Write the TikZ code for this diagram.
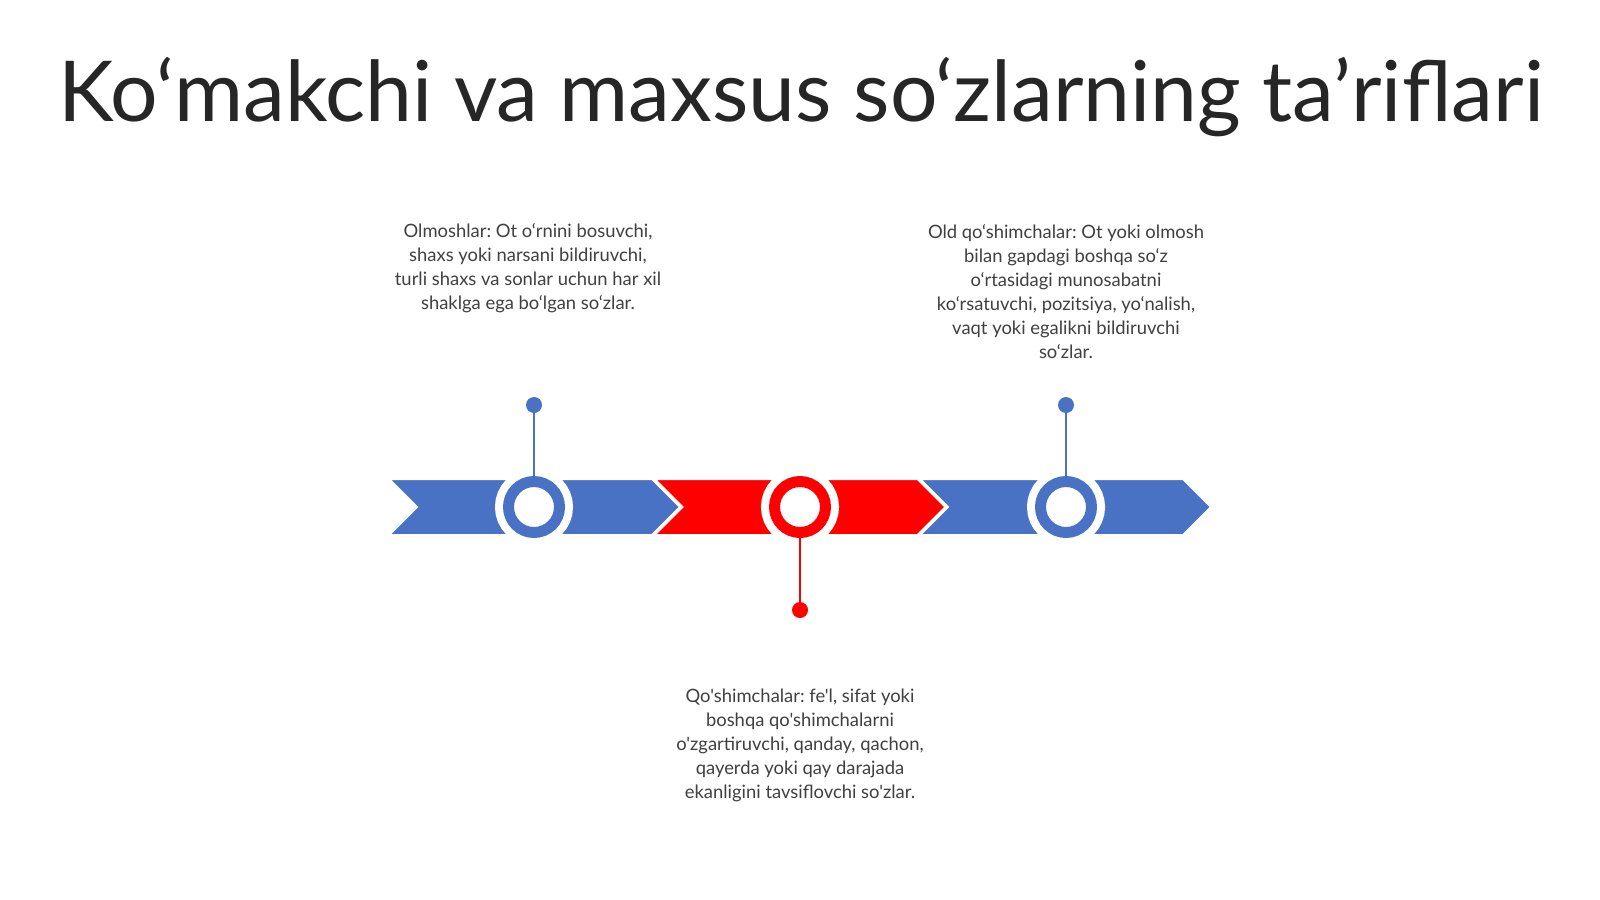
\documentclass[tikz,border=0pt]{standalone}
\usepackage{fontspec}
\setmainfont{Lato}[Ligatures=TeXOff]
\definecolor{blueC}{HTML}{4A72C4}
\definecolor{redC}{HTML}{FF0000}
\definecolor{titleC}{HTML}{262626}
\definecolor{textC}{HTML}{404040}
\tikzset{
  chev/.style={fill=#1, draw=white, line width=2, line join=miter},
  ring/.style={circle, minimum size=51, inner sep=0, outer sep=0, fill=white, line width=11, draw=#1,
    preaction={draw=white, line width=27}},
  dotnode/.style={circle, minimum size=16, inner sep=0, fill=#1},
  stem/.style={draw=#1, line width=2.5},
  desc/.style={align=center, text=textC, inner sep=0, font=\fontsize{18.4}{24}\selectfont\frenchspacing},
}
\begin{document}
\frenchspacing
\begin{tikzpicture}[x=1pt,y=-1pt]
\useasboundingbox (0,0) rectangle (1600,899);
\fill[white] (0,0) rectangle (1600,899);
\node[anchor=base, text=titleC, inner sep=0, font=\fontsize{84}{92}\selectfont] (title) at (801,121) {Ko‘makchi va maxsus so‘zlarning ta’riflari};
% chevrons
\foreach \i/\c in {0/blueC,1/redC,2/blueC}{
  \pgfmathsetmacro\L{389+265.5*\i}
  \path[chev=\c] (\L,479) -- ++(263,0) -- ++(28,28) -- ++(-28,28) -- ++(-263,0) -- ++(28,-28) -- cycle;
}
% rings
\node[ring=blueC] (c1) at (534,507) {};
\node[ring=redC] (c2) at (800,507) {};
\node[ring=blueC] (c3) at (1066,507) {};
% dots
\node[dotnode=blueC] (d1) at (534,405) {};
\node[dotnode=redC] (d2) at (800,610) {};
\node[dotnode=blueC] (d3) at (1066,405) {};
\draw[stem=blueC] (d1.center) -- ([yshift=-5.5]c1.north);
\draw[stem=redC] (d2.center) -- ([yshift=5.5]c2.south);
\draw[stem=blueC] (d3.center) -- ([yshift=-5.5]c3.north);
% texts
\node[desc] (t1) at (528,268) {Olmoshlar: Ot o‘rnini bosuvchi,\\shaxs yoki narsani bildiruvchi,\\turli shaxs va sonlar uchun har xil\\shaklga ega bo‘lgan so‘zlar.};
\node[desc] (t3) at (1066,292) {Old qo‘shimchalar: Ot yoki olmosh\\bilan gapdagi boshqa so‘z\\o‘rtasidagi munosabatni\\ko‘rsatuvchi, pozitsiya, yo‘nalish,\\vaqt yoki egalikni bildiruvchi\\so‘zlar.};
\node[desc] (t2) at (800,745) {Qo'shimchalar: fe'l, sifat yoki\\boshqa qo'shimchalarni\\o'zgartiruvchi, qanday, qachon,\\qayerda yoki qay darajada\\ekanligini tavsiflovchi so'zlar.};
\end{tikzpicture}
\end{document}
